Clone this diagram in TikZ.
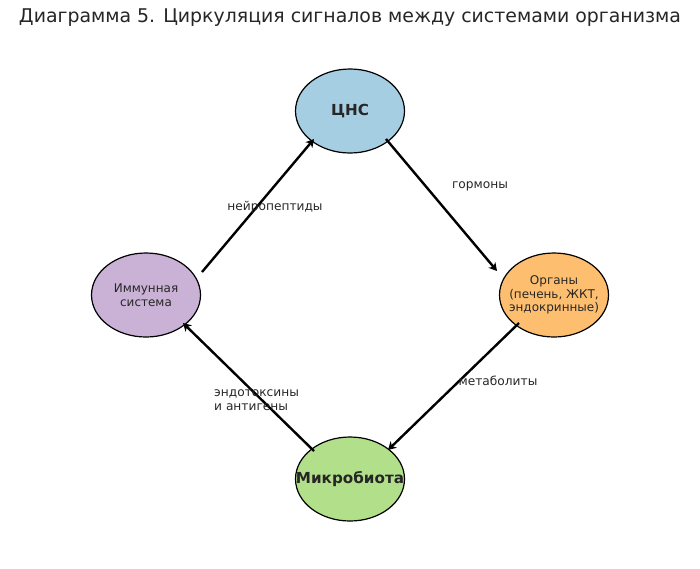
\documentclass[tikz,border=0pt]{standalone}
\usepackage{fontspec}
\setmainfont{DejaVu Sans}
\usetikzlibrary{arrows.meta,calc,shapes.geometric}
\definecolor{cnsblue}{HTML}{A6CEE3}
\definecolor{organorange}{HTML}{FDBF6F}
\definecolor{immpurple}{HTML}{CAB2D6}
\definecolor{micgreen}{HTML}{B2DF8A}
\definecolor{txtgray}{HTML}{262626}
\tikzset{x=1pt, y=-1pt,
every organ/.style={ % ellipse of a body system, text set as centre label
ellipse, draw=black, line width=1.2pt,
minimum width=109pt, minimum height=84pt, inner sep=0pt,
label={[align=center, text=txtgray, inner sep=0pt, font=\organfont]center:#1}},
every signal/.style={ % arrow between systems
draw, line width=2.4pt, -{Stealth[length=8pt,width=9pt,inset=2.5pt]}},
every sigtext/.style={ % label of a signal
font=\fontsize{12.2}{13.5}\selectfont, text=txtgray, inner sep=0pt}}
\newcommand\organfont{\fontsize{12}{13.6}\selectfont}
\newcommand\organbold{\fontsize{15.2}{17}\selectfont\bfseries}

\begin{document}
\begin{tikzpicture}
\useasboundingbox (0,0) rectangle (700,568);
\node[text=txtgray, font=\fontsize{18.9}{22}\selectfont] (title) at (350,18)
{Диаграмма 5. Циркуляция сигналов между системами организма};
% systems
\node[every organ={\organbold ЦНС}, fill=cnsblue] (cns) at (350,111) {};
\node[every organ={Органы\\(печень, ЖКТ,\\эндокринные)}, fill=organorange] (org) at (554,295) {};
\node[every organ={\organbold Микробиота}, fill=micgreen] (mic) at (350,479) {};
\node[every organ={Иммунная\\система}, fill=immpurple] (imm) at (146,295) {};
% signals
\draw[every signal] ($(cns)+(36,28)$) -- ($(org)+(-57,-24)$);
\draw[every signal] ($(org)+(-35,28)$) -- ($(mic)+(38,-29)$);
\draw[every signal] ($(mic)+(-36,-28)$) -- ($(imm)+(37,28)$);
\draw[every signal] ($(imm)+(56,-23)$) -- ($(cns)+(-36,28)$);
% labels
\node[every sigtext] (lhorm) at (480,186) {гормоны};
\node[every sigtext] (lmet) at (498,381) {метаболиты};
\node[every sigtext, align=left, anchor=west] (lendo) at (214,400)
{эндотоксины\\и антигены};
\node[every sigtext] (lneuro) at (275,207) {нейропептиды};
\end{tikzpicture}
\end{document}
